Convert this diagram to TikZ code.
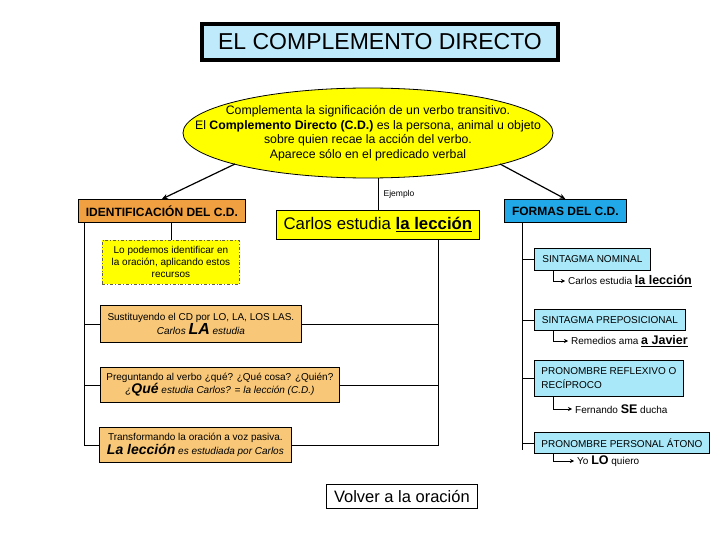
\documentclass[tikz,border=0pt]{standalone}
\usepackage{fontspec}
\setmainfont{Liberation Sans}
\usetikzlibrary{shapes.geometric,arrows.meta,positioning,calc}
\definecolor{orng}{HTML}{F0A040}
\definecolor{lorng}{HTML}{F8C878}
\definecolor{blu}{HTML}{20A8E8}
\definecolor{lblu}{HTML}{A8E8F8}
\definecolor{ylw}{HTML}{FFFF00}
\begin{document}
\begin{tikzpicture}[x=1pt,y=-1pt,
  bx/.style={draw=black,line width=0.8pt,inner sep=2pt,font=\fontsize{10}{12}\selectfont,align=center},
  ob/.style={bx,fill=lorng,anchor=north west},
  cb/.style={bx,fill=lblu,anchor=north west,align=left,inner xsep=7pt},
  ln/.style={line width=0.8pt},
  ex/.style={anchor=west,inner sep=0pt,font=\fontsize{10}{12}\selectfont},
  arr/.style={line width=1.2pt,-{Stealth[length=6pt,width=5pt]}},
  sarr/.style={line width=0.8pt,-{Stealth[length=4pt,width=4pt]}}]
\useasboundingbox (0,0) rectangle (720,540);
\fill[white] (0,0) rectangle (720,540);
% title
\node[draw=black,line width=4pt,fill=cyan!25,minimum width=356pt,minimum height=36pt,font=\fontsize{23}{25}\selectfont] (title) at (380,42) {EL COMPLEMENTO DIRECTO};
% ellipse
\node[ellipse,draw=black,line width=0.8pt,fill=ylw,minimum width=370pt,minimum height=90pt,inner sep=0pt] (ell) at (368,133) {};
\node[align=center,inner sep=0pt,font=\fontsize{12.3}{14.5}\selectfont] (ellt) at (ell.center) {Complementa la significación de un verbo transitivo.\\El \textbf{Complemento Directo (C.D.)} es la persona, animal u objeto\\sobre quien recae la acción del verbo.\\Aparece sólo en el predicado verbal};
% main boxes
\node[bx,fill=orng,anchor=north west,minimum width=167pt,minimum height=23pt,font=\bfseries\fontsize{12}{14}\selectfont] (id) at (78,199) {IDENTIFICACIÓN DEL C.D.};
\node[bx,fill=blu,anchor=north west,minimum width=122pt,minimum height=23pt,font=\bfseries\fontsize{12}{14}\selectfont] (fo) at (504,199) {FORMAS DEL C.D.};
\node[bx,fill=ylw,anchor=north west,minimum width=203pt,minimum height=29pt,font=\fontsize{16.8}{19}\selectfont] (ex) at (276,210) {Carlos estudia \textbf{\underline{la lección}}};
\draw[arr] ($(ell.center)+(-133,31)$) -- (id.north);
\draw[arr] ($(ell.center)+(132,31)$) -- (fo.north);
\draw[ln] (ell.south -| ex.north) -- node[right,font=\fontsize{8.5}{10}\selectfont,xshift=2pt]{Ejemplo} (ex.north);
% left
\node[bx,fill=ylw,anchor=north west,draw=black!70!yellow,dash dot,minimum width=137pt,minimum height=44pt] (ds) at (102,240) {Lo podemos identificar en\\la oración, aplicando estos\\recursos};
\draw[ln] (ds.north) -- (ds.north |- id.south);
\node[ob,minimum width=201pt,minimum height=37pt] (b1) at (100,305) {Sustituyendo el CD por LO, LA, LOS LAS.\\\textit{Carlos \textbf{\fontsize{16}{16}\selectfont LA} estudia}};
\node[ob,minimum width=239pt,minimum height=35pt] (b2) at (100,367) {Preguntando al verbo ¿qué? ¿Qué cosa? ¿Quién?\\\textit{¿\textbf{\fontsize{14}{14}\selectfont Qué} estudia Carlos? = la lección (C.D.)}};
\node[ob,minimum width=192pt,minimum height=35pt] (b3) at (99,427) {Transformando la oración a voz pasiva.\\\textit{\textbf{\fontsize{14}{14}\selectfont La lección} es estudiada por Carlos}};
\coordinate (lt) at ($(id.south west)+(6,0)$);
\draw[ln] (lt) |- (b3.west);
\draw[ln] (lt |- b1.west) -- (b1.west);
\draw[ln] (lt |- b2.west) -- (b2.west);
\coordinate (rt) at (438,0);
\draw[ln] (rt |- ex.south) |- (b3.east);
\draw[ln] (b1.east) -- (rt |- b1.east);
\draw[ln] (b2.east) -- (rt |- b2.east);
% right
\node[cb,minimum width=116pt,minimum height=22pt] (c1) at (534,248) {SINTAGMA NOMINAL};
\node[cb,minimum width=151pt,minimum height=21pt] (c2) at (534,309) {SINTAGMA PREPOSICIONAL};
\node[cb,minimum width=142pt,minimum height=36pt,font=\fontsize{10}{14}\selectfont] (c3) at (534,360) {PRONOMBRE REFLEXIVO O\\RECÍPROCO};
\node[cb,minimum width=175pt,minimum height=21pt] (c4) at (534,432) {PRONOMBRE PERSONAL ÁTONO};
\coordinate (rl) at ($(fo.south west)+(18,0)$);
\draw[ln] (rl) -- (rl |- 0,450);
\foreach \c in {c1,c2,c3,c4} \draw[ln] (rl |- \c.west) -- (\c.west);
\node[ex] (e1) at (568,281) {Carlos estudia \textbf{\fontsize{12.5}{12}\selectfont\underline{la lección}}};
\node[ex] (e2) at (571,341) {Remedios ama \textbf{\fontsize{12.5}{12}\selectfont\underline{a Javier}}};
\node[ex] (e3) at (575,409) {Fernando \textbf{\fontsize{12.5}{12}\selectfont SE} ducha};
\node[ex] (e4) at (577,461) {Yo \textbf{\fontsize{12.5}{12}\selectfont LO} quiero};
\foreach \c/\e in {c1/e1,c2/e2,c3/e3,c4/e4}
  \draw[sarr] ($(\c.south west)+(19,0)$) |- ($(\e.west)+(-3,0)$);
% volver
\node[draw=black,line width=0.8pt,fill=white,minimum width=151pt,minimum height=24pt,font=\fontsize{16.5}{18}\selectfont,anchor=north west] (vo) at (326,484) {Volver a la oración};
\end{tikzpicture}
\end{document}
